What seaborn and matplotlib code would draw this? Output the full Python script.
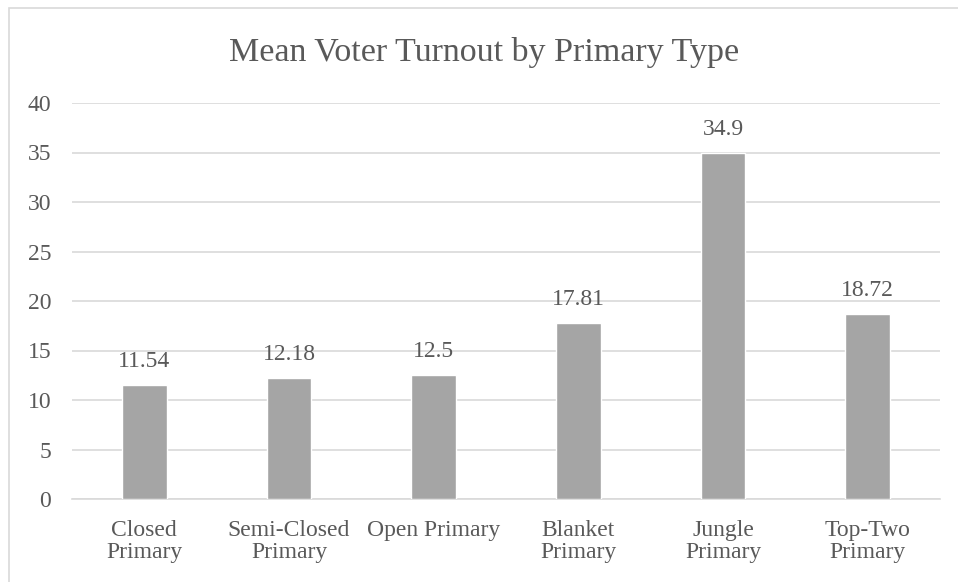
import matplotlib
matplotlib.use("Agg")
import matplotlib.pyplot as plt
import seaborn as sns
import pandas as pd
from matplotlib.patches import Rectangle

# Chart data
primary_types = ["Closed\nPrimary", "Semi-Closed\nPrimary", "Open Primary",
                 "Blanket\nPrimary", "Jungle\nPrimary", "Top-Two\nPrimary"]
turnout = [11.54, 12.18, 12.5, 17.81, 34.9, 18.72]
turnout_labels = ["11.54", "12.18", "12.5", "17.81", "34.9", "18.72"]
y_ticks = [0, 5, 10, 15, 20, 25, 30, 35, 40]

df = pd.DataFrame({"type": primary_types, "turnout": turnout})

sns.set_style("white")
plt.rcParams["font.family"] = ["Liberation Serif", "DejaVu Serif"]

text_color = "#595959"
grid_color = "#d9d9d9"

fig = plt.figure(figsize=(9.58, 5.82), dpi=100)
ax = fig.add_axes([72 / 958, 83 / 582, 868 / 958, 396 / 582])

sns.barplot(data=df, x="type", y="turnout", color="#a5a5a5", width=0.31,
            saturation=1, ax=ax, zorder=3)

# value labels above bars
for i, (v, lab) in enumerate(zip(turnout, turnout_labels)):
    ax.annotate(lab, (i, v), xytext=(0, 13), textcoords="offset points",
                ha="center", va="baseline", fontsize=17, color=text_color)

ax.set_ylim(0, 40)
ax.set_yticks(y_ticks)
ax.set_xlim(-0.5, len(primary_types) - 0.5)
ax.yaxis.grid(True, color=grid_color, linewidth=1.2, zorder=0)
ax.set_axisbelow(True)
for s in ["top", "right", "left"]:
    ax.spines[s].set_visible(False)
ax.spines["bottom"].set_color(grid_color)
ax.spines["bottom"].set_linewidth(1.2)
ax.tick_params(axis="y", length=0, pad=15, labelsize=17, labelcolor=text_color)
ax.tick_params(axis="x", length=0, pad=15, labelsize=17, labelcolor=text_color)
for t in ax.get_xticklabels():
    t.set_linespacing(1.08)
ax.set_xlabel("")
ax.set_ylabel("")

fig.suptitle("Mean Voter Turnout by Primary Type", x=484 / 958, y=1 - 52 / 582,
             va="center", fontsize=24.5, color=text_color)

# chart area border (cropped by the image edges)
fig.patches.append(Rectangle((9 / 958, -0.1), 1.2, 1.1 - 8 / 582,
                             transform=fig.transFigure, fill=False,
                             edgecolor=grid_color, linewidth=1.2))

fig.savefig("out.png", dpi=100)
